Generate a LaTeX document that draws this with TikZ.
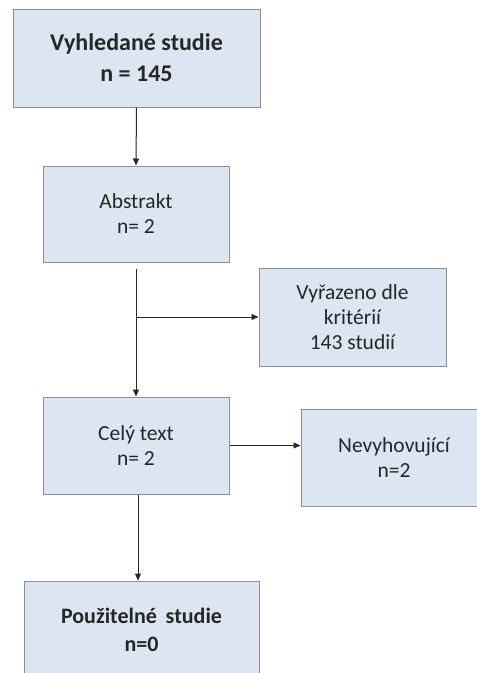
\documentclass[tikz,border=0pt]{standalone}
\usepackage{fontspec}
\setmainfont{Carlito}
\usetikzlibrary{arrows.meta}
\definecolor{boxfill}{HTML}{DCE6F2}
\definecolor{boxline}{HTML}{8A9099}
\definecolor{arrowc}{HTML}{262626}
\begin{document}
\begin{tikzpicture}[x=1pt,y=-1pt,
  box/.style={draw=boxline,fill=boxfill,line width=1pt,align=center,inner sep=0pt,text=black!85},
  reg/.style={font=\fontsize{21.5}{25}\selectfont},
  conn/.style={draw=arrowc,line width=1pt,-{Triangle[length=7pt,width=6pt]}}]
\useasboundingbox (0,0) rectangle (477,673);
\clip (0,0) rectangle (477,673);
\fill[white] (0,0) rectangle (477,673);
\node[box,minimum width=247pt,minimum height=98pt,font=\fontsize{24}{31}\selectfont\bfseries] (b1) at (136.5,58) {Vyhledané studie\\n = 145};
\node[box,reg,minimum width=186pt,minimum height=96pt] (b2) at (136,214) {Abstrakt\\n= 2};
\node[box,reg,minimum width=187pt,minimum height=98pt] (b3) at (352.5,317) {Vyřazeno dle\\kritérií\\143 studií};
\node[box,reg,minimum width=186pt,minimum height=97pt] (b4) at (136,445.5) {Celý text\\n= 2};
\node[box,reg,minimum width=186pt,minimum height=97pt] (b5) at (394,457.5) {Nevyhovující\\n=2};
\node[box,minimum width=235pt,minimum height=97pt,font=\fontsize{22}{28}\selectfont\bfseries] (b6) at (141.5,629.5) {Použitelné\hspace{0.4em}studie\\n=0};
\coordinate (s2) at ([yshift=-6pt]b2.south);
\coordinate (br) at (b3.west -| s2);
\draw[conn] (b1.south) -- (b2.north);
\draw[conn] (s2) -- (b4.north);
\draw[conn] (br) -- (b3.west);
\draw[conn] (b4.east) -- (b4.east -| b5.west);
\coordinate (s4) at ([xshift=2pt]b4.south);
\draw[conn] (s4) -- (s4 |- b6.north);
\end{tikzpicture}
\end{document}
